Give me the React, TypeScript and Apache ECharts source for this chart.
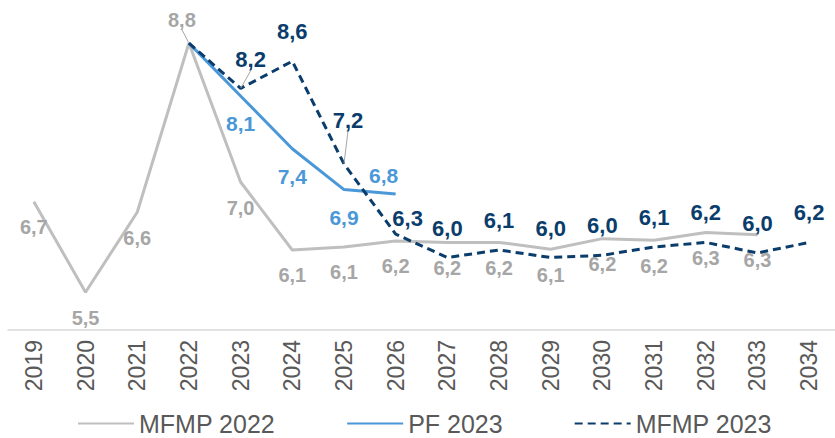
import React, { useEffect, useRef } from "react";
import * as echarts from "echarts";

const years = ["2019", "2020", "2021", "2022", "2023", "2024", "2025", "2026", "2027", "2028", "2029", "2030", "2031", "2032", "2033", "2034"];
const seriesNames = ["MFMP 2022", "PF 2023", "MFMP 2023"];
const mfmp2022 = [6.7, 5.5, 6.56, 8.8, 6.96, 6.06, 6.1, 6.18, 6.16, 6.16, 6.07, 6.21, 6.19, 6.29, 6.26, null];
const pf2023 = [null, null, null, 8.8, 8.1, 7.4, 6.86, 6.8, null, null, null, null, null, null, null, null];
const mfmp2023 = [null, null, null, 8.8, 8.2, 8.56, 7.2, 6.27, 5.96, 6.06, 5.96, 5.99, 6.1, 6.16, 6.02, 6.16];

const GRAY = "#BFBFBF";
const GRAY_TXT = "#A6A6A6";
const BLUE = "#4A98D8";
const NAVY = "#0A3D6B";
const FONT = "'Liberation Sans', Arial, Helvetica, sans-serif";

const fmt = (p: any) => {
  const v = Array.isArray(p.value) ? p.value[1] : p.value;
  return v == null ? "" : Number(v).toFixed(1).replace(".", ",");
};

// label placement tweaks (index -> settings)
const grayLabel: Record<number, any> = { 3: { position: "top", distance: 5 } };
const grayMove: Record<number, [number, number]> = { 3: [-7, -8] };
const grayLeader = [3];
const blueLabel: Record<number, any> = { 3: { show: false }, 7: { position: "top", distance: 5 } };
const blueMove: Record<number, [number, number]> = { 7: [-12, -3] };
const navyLabel: Record<number, any> = {
  3: { show: false },
  4: { distance: 5 },
  6: { distance: 5 },
};
const navyMove: Record<number, [number, number]> = { 4: [10, -12], 6: [4, -27], 7: [12, 14] };
const navyLeader = [4, 6];

function labelData(values: (number | null)[], labels: Record<number, any>, leaders: number[]) {
  return values.map((v, i) => {
    const item: any = { value: [i, v == null ? "-" : v] };
    if (v == null) item.label = { show: false };
    if (labels[i]) item.label = labels[i];
    if (leaders.indexOf(i) >= 0) item.labelLine = { show: true, lineStyle: { color: GRAY_TXT, width: 1 } };
    return item;
  });
}

function layoutFn(moves: Record<number, [number, number]>) {
  return (params: any) => {
    const m = moves[params.dataIndex];
    if (!m) return {};
    return { dx: m[0], dy: m[1] };
  };
}

export default function App() {
  const ref = useRef<HTMLDivElement>(null);
  useEffect(() => {
    if (!ref.current) return;
    const chart = echarts.init(ref.current, null, { renderer: "svg" });
    const labelBase = { show: true, fontFamily: FONT, fontWeight: "bold", formatter: fmt };
    const lineBase = { type: "line", symbol: "none", showSymbol: false, silent: true };
    const scatterBase = {
      type: "scatter",
      symbol: "circle",
      symbolSize: 1,
      itemStyle: { color: "rgba(0,0,0,0)", opacity: 1 },
      silent: true,
      z: 10,
    };
    chart.setOption({
      animation: false,
      backgroundColor: "#ffffff",
      grid: { left: 8, top: 28, width: 829, bottom: 108 },
      legend: {
        data: seriesNames,
        left: 77,
        top: 411,
        padding: 0,
        itemWidth: 56,
        itemHeight: 14,
        itemGap: 71,
        itemStyle: { opacity: 0 },
        textStyle: { fontFamily: FONT, fontSize: 25, lineHeight: 24, color: "#595959" },
      },
      xAxis: {
        type: "category",
        data: years,
        boundaryGap: true,
        axisLine: { show: true, lineStyle: { color: "#D9D9D9", width: 1.5 } },
        axisTick: { show: false },
        axisLabel: { rotate: 90, margin: 10, fontSize: 23, fontFamily: FONT, color: "#595959" },
      },
      yAxis: {
        type: "value",
        min: 5,
        max: 9,
        show: false,
        splitLine: { show: false },
      },
      series: [
        {
          ...lineBase,
          name: seriesNames[0],
          z: 2,
          lineStyle: { color: GRAY, width: 3 },
          itemStyle: { color: GRAY },
          data: mfmp2022,
        },
        {
          ...lineBase,
          name: seriesNames[1],
          z: 3,
          lineStyle: { color: BLUE, width: 3 },
          itemStyle: { color: BLUE },
          data: pf2023,
        },
        {
          ...lineBase,
          name: seriesNames[2],
          z: 4,
          lineStyle: { color: NAVY, width: 3, type: [8, 5] },
          itemStyle: { color: NAVY },
          data: mfmp2023,
        },
        {
          ...scatterBase,
          name: "lbl-mfmp2022",
          label: { ...labelBase, fontSize: 20, color: GRAY_TXT, position: "bottom", distance: 15 },
          labelLayout: layoutFn(grayMove),
          data: labelData(mfmp2022, grayLabel, grayLeader),
        },
        {
          ...scatterBase,
          name: "lbl-pf2023",
          label: { ...labelBase, fontSize: 21, color: BLUE, position: "bottom", distance: 17 },
          labelLayout: layoutFn(blueMove),
          data: labelData(pf2023, blueLabel, []),
        },
        {
          ...scatterBase,
          name: "lbl-mfmp2023",
          label: { ...labelBase, fontSize: 22, color: NAVY, position: "top", distance: 18 },
          labelLayout: layoutFn(navyMove),
          data: labelData(mfmp2023, navyLabel, navyLeader),
        },
      ],
    });
    return () => chart.dispose();
  }, []);
  return <div ref={ref} style={{ position: "absolute", left: 0, top: 0, width: 835, height: 438 }} />;
}
